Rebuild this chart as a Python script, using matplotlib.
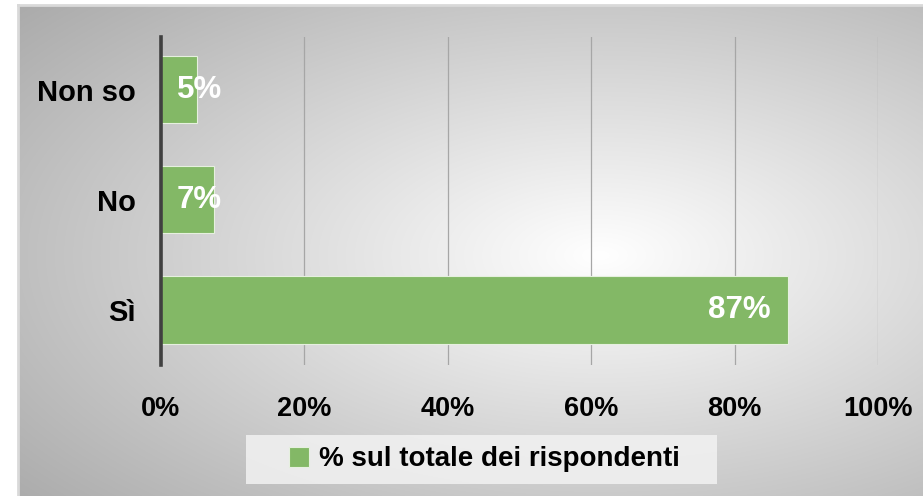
import numpy as np
import matplotlib
matplotlib.use("Agg")
import matplotlib.pyplot as plt
from matplotlib.patches import Rectangle

categories = ["Sì", "No", "Non so"]
values = [87.4, 7.4, 5.0]
labels = ["87%", "7%", "5%"]
xticks = [0, 20, 40, 60, 80, 100]
xticklabels = ["0%", "20%", "40%", "60%", "80%", "100%"]
series_name = "% sul totale dei rispondenti"

W, H = 923, 496
DPI = 100
fig = plt.figure(figsize=(W / DPI, H / DPI), dpi=DPI, facecolor="white")
FONT = "Liberation Sans"

# radial gradient background
bx0, by0 = 18, 5
bg = fig.add_axes([bx0 / W, 0, 1 - bx0 / W, 1 - by0 / H], zorder=0)
nx, ny = W - bx0, H - by0
xs = np.arange(nx) + bx0
ys = np.arange(ny) + by0
X, Y = np.meshgrid(xs, ys)
cx, cy, rx, ry = 600, 255, 600, 300
r = np.sqrt(((X - cx) / rx) ** 2 + ((Y - cy) / ry) ** 2)
g = np.clip(255 - 66 * r, 0, 255) / 255.0
img = np.dstack([g, g, g])
bg.imshow(img, aspect="auto", extent=[0, 1, 0, 1], interpolation="bilinear")
bg.set_xlim(0, 1)
bg.set_ylim(0, 1)
bg.axis("off")
bg.plot([0, 0], [0, 1], color="#d9d9d9", lw=2, transform=bg.transAxes, clip_on=False)
bg.plot([0, 1], [1, 1], color="#d9d9d9", lw=2, transform=bg.transAxes, clip_on=False)

left, right, top, bottom = 161, 878, 37, 365
ax = fig.add_axes([left / W, 1 - bottom / H, (right - left) / W, (bottom - top) / H], zorder=1)
ax.set_facecolor("none")

ypos = np.arange(len(categories))
bars = ax.barh(ypos, values, height=0.61, color="#83B866", edgecolor="#e6f0df",
               linewidth=0.8, zorder=3, label=series_name)

ax.set_xlim(0, 100)
ax.set_ylim(-0.5, 2.48)
ax.set_xticks(xticks)
ax.set_xticklabels(xticklabels)
ax.set_yticks(ypos)
ax.set_yticklabels(categories)
for s in ["top", "right", "bottom"]:
    ax.spines[s].set_visible(False)
ax.spines["left"].set_color("#404040")
ax.spines["left"].set_linewidth(2.6)
ax.spines["left"].set_zorder(5)
ax.grid(axis="x", color="#a6a6a6", linewidth=0.9, zorder=1)
ax.tick_params(axis="both", length=0)
ax.tick_params(axis="x", pad=22)
ax.tick_params(axis="y", pad=18)
for t in ax.get_xticklabels():
    t.set_fontfamily(FONT); t.set_fontweight("bold"); t.set_fontsize(19.5)
for t in ax.get_yticklabels():
    t.set_fontfamily(FONT); t.set_fontweight("bold"); t.set_fontsize(21)

for b, v, lab in zip(bars, values, labels):
    yc = b.get_y() + b.get_height() / 2
    if v > 20:
        ax.annotate(lab, (v, yc), xytext=(-12, 0), textcoords="offset points",
                    ha="right", va="center", color="white", fontsize=22.5,
                    fontweight="bold", fontfamily=FONT, zorder=6)
    else:
        ax.annotate(lab, (0, yc), xytext=(11.5, 0), textcoords="offset points",
                    ha="left", va="center", color="white", fontsize=22.5,
                    fontweight="bold", fontfamily=FONT, zorder=6)

# legend
lbx0, lby0, lbx1, lby1 = 246, 435, 717, 484
fig.patches.append(Rectangle((lbx0 / W, 1 - lby1 / H), (lbx1 - lbx0) / W, (lby1 - lby0) / H,
                             transform=fig.transFigure, facecolor="#f2f2f2", alpha=0.85,
                             edgecolor="none", zorder=2))
leg = fig.legend(handles=[bars], labels=[series_name], loc="center",
                 bbox_to_anchor=((lbx0 + lbx1) / 2 / W + 0.003, 1 - (lby0 + lby1) / 2 / H),
                 frameon=False, handlelength=0.75, handleheight=0.75, handletextpad=0.35,
                 prop={"family": FONT, "weight": "bold", "size": 20})
leg.set_zorder(3)

fig.savefig("out.png", dpi=DPI, facecolor="white")
